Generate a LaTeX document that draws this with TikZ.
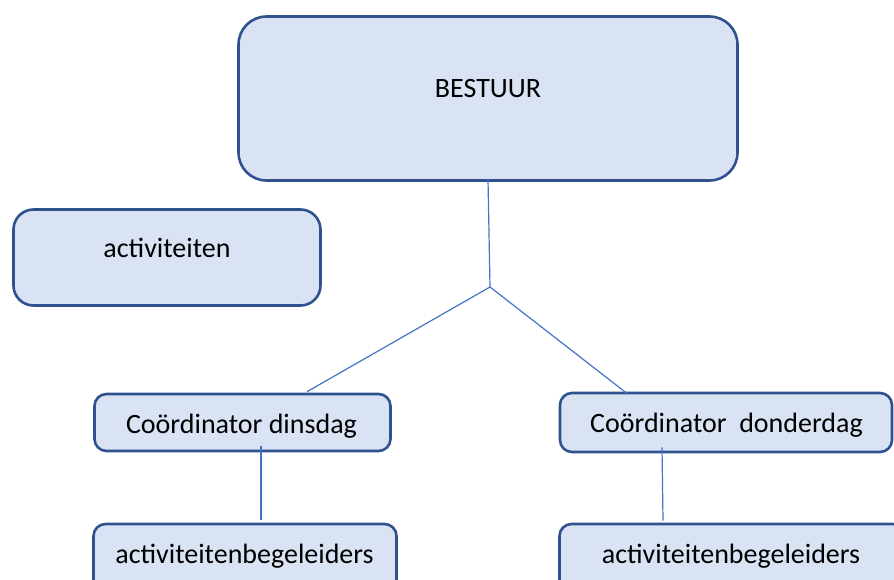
\documentclass[tikz,border=0pt]{standalone}
\usepackage{fontspec}
\setmainfont{Carlito}
\usetikzlibrary{calc}
\definecolor{boxfill}{HTML}{DAE3F3}
\definecolor{boxline}{HTML}{2F528F}
\definecolor{connc}{HTML}{4472C4}
\begin{document}
\begin{tikzpicture}[x=1pt,y=-1pt,
  box/.style={draw=boxline, fill=boxfill, line width=2.6pt, inner sep=0pt},
  lbl/.style={anchor=base, font=\fontsize{28}{33}\selectfont, inner sep=0pt},
  connector/.style={draw=connc, line width=1.2pt}]
\useasboundingbox (0,0) rectangle (894,579);
\node[box, rounded corners=28pt, minimum width=499pt, minimum height=164pt] (bestuur) at (488,98.5) {};
\node[box, rounded corners=20pt, minimum width=307pt, minimum height=96pt] (act) at (167,257.5) {};
\node[box, rounded corners=12pt, minimum width=296pt, minimum height=57pt] (cdi) at (242.5,422.5) {};
\node[box, rounded corners=12pt, minimum width=332pt, minimum height=59pt] (cdo) at (726,422.5) {};
\node[box, rounded corners=12pt, minimum width=303pt, minimum height=80pt] (bl) at (245,564) {};
\node[box, rounded corners=12pt, minimum width=345pt, minimum height=80pt] (br) at (732,564) {};

\node[lbl] (tbestuur) at (488,97) {BESTUUR};
\node[lbl] (tact) at (167,257) {activiteiten};
\node[lbl] (tcdi) at (241.5,433) {Coördinator dinsdag};
\node[lbl] (tcdo) at (726.5,432) {Coördinator\ \ donderdag};
\node[lbl] (tbl) at (244.5,563) {activiteitenbegeleiders};
\node[lbl] (tbr) at (731,563) {activiteitenbegeleiders};

\coordinate (j) at (490,287);
\draw[connector] ([yshift=2.5pt]bestuur.south) -- (j);
\draw[connector] (j) -- ([xshift=64.5pt,yshift=1pt]cdi.north);
\draw[connector] (j) -- ([xshift=-98pt,yshift=-2.5pt]cdo.north);
\draw[connector] ([xshift=18.5pt,yshift=6pt]cdi.south) -- ([xshift=16pt,yshift=3pt]bl.north);
\draw[connector] ([xshift=-64pt,yshift=6pt]cdo.south) -- ([xshift=-69pt,yshift=2pt]br.north);
\end{tikzpicture}
\end{document}
